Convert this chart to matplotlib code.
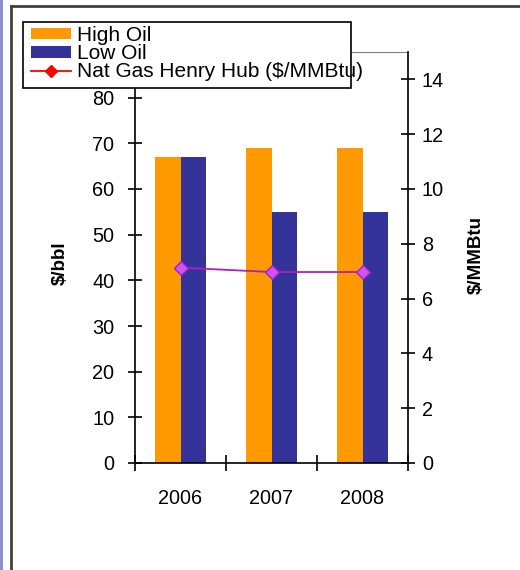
import numpy as np
import matplotlib.pyplot as plt
from matplotlib.patches import Patch, Rectangle
from matplotlib.lines import Line2D

plt.rcParams['font.family'] = ['Liberation Sans', 'DejaVu Sans']

# Oil price cases ($/bbl) and Henry Hub gas price ($/MMBtu)
years = ['2006', '2007', '2008']
high_oil = [67, 69, 69]
low_oil = [67, 55, 55]
nat_gas = [7.13, 6.97, 6.97]

orange = '#FF9900'
navy = '#333399'
W, H = 520, 570

fig = plt.figure(figsize=(W / 100, H / 100), dpi=100)
ax = fig.add_axes([135 / W, 1 - 463 / H, 273 / W, 411 / H])

x = np.arange(len(years))
bw = 0.28
ax.bar(x - bw / 2, high_oil, bw, color=orange, zorder=2)
ax.bar(x + bw / 2, low_oil, bw, color=navy, zorder=2)

ax.set_xlim(-0.5, 2.5)
ax.set_ylim(0, 90)
ax.set_yticks(range(0, 81, 10))
ax.set_xticks(x)
ax.set_xticklabels(years)
ax.set_xticks([-0.5, 0.5, 1.5, 2.5], minor=True)
ax.tick_params(axis='x', which='major', length=0, pad=19, labelsize=14.3)
ax.tick_params(axis='x', which='minor', direction='inout', length=11, width=1.2)
ax.tick_params(axis='y', direction='inout', length=10, width=1.2, pad=10, labelsize=14.3)

for s in ['left', 'bottom']:
    ax.spines[s].set_color('black')
    ax.spines[s].set_linewidth(1.2)
ax.spines['top'].set_color('#808080')
ax.spines['right'].set_visible(False)

ax.set_ylabel('$/bbl', fontsize=13.5, fontweight='bold', va='center')
ax.yaxis.set_label_coords(-0.275, 0.487)

# secondary axis for the gas price
ax2 = ax.twinx()
ax2.plot(x, nat_gas, color='#AA22BB', lw=1.3, marker='D', ms=7,
         mfc='#CC55EE', mec='#9922CC', zorder=3)
ax2.set_ylim(0, 15)
ax2.set_yticks(range(0, 15, 2))
ax2.tick_params(axis='y', direction='inout', length=10, width=1.2, pad=5, labelsize=14.3)
for s in ['left', 'top', 'bottom']:
    ax2.spines[s].set_visible(False)
ax2.spines['right'].set_color('black')
ax2.spines['right'].set_linewidth(1.2)
ax2.set_ylabel('$/MMBtu', fontsize=13.5, fontweight='bold', rotation=90, va='center')
ax2.yaxis.set_label_coords(1.249, 0.506)

# legend box, drawn separately so the long label can run over its edge
fig.add_artist(Rectangle((23 / W, 1 - 88 / H), 328 / W, 66 / H, transform=fig.transFigure,
                         facecolor='white', edgecolor='black', lw=1.2, zorder=4))
handles = [
    Patch(facecolor=orange, edgecolor='none', label='High Oil'),
    Patch(facecolor=navy, edgecolor='none', label='Low Oil'),
    Line2D([], [], color='red', lw=1.3, marker='D', ms=6, label='Nat Gas Henry Hub ($/MMBtu)'),
]
leg = fig.legend(handles=handles, loc='upper left', bbox_to_anchor=(31 / W, 1 - 26 / H),
                 borderaxespad=0, borderpad=0, fontsize=15, frameon=False,
                 labelspacing=-0.04, handlelength=1.9, handleheight=0.48, handletextpad=0.33)
leg.set_zorder(5)

# outer chart frame
fig.add_artist(Line2D([11 / W, 11 / W], [0, 1 - 6 / H], color='#404040', lw=2))
fig.add_artist(Line2D([11 / W, 1], [1 - 6 / H, 1 - 6 / H], color='#404040', lw=2))
fig.add_artist(Line2D([1 / W, 1 / W], [0, 1], color='#8888CC', lw=2))

plt.savefig('out.png', dpi=100)
